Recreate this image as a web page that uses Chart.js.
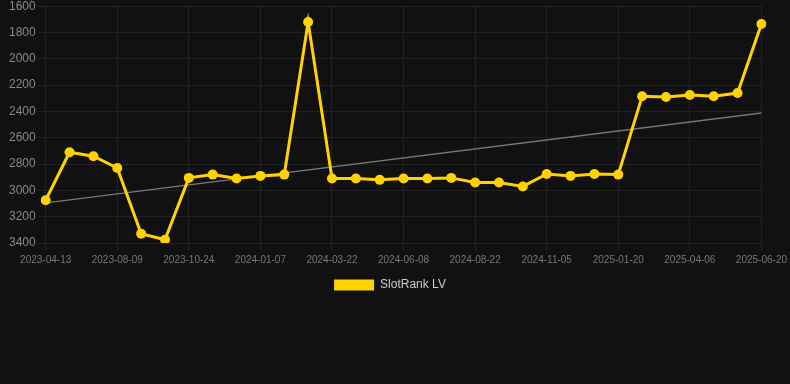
<!DOCTYPE html>
<html>
<head>
<meta charset="utf-8">
<script src="https://cdn.jsdelivr.net/npm/chart.js@4.4.1/dist/chart.umd.min.js"></script>
<style>
  html, body { margin: 0; padding: 0; background: #111111; overflow: hidden; }
  #wrap { width: 790px; height: 304px; position: relative; top: -3px; }
</style>
</head>
<body>
<div id="wrap"><canvas id="c"></canvas></div>
<script>
const dates = [
  "2023-04-13","2023-05-22","2023-06-30","2023-08-09","2023-09-03","2023-09-29",
  "2023-10-24","2023-11-18","2023-12-13","2024-01-07","2024-02-01","2024-02-26",
  "2024-03-22","2024-04-17","2024-05-13","2024-06-08","2024-07-03","2024-07-28",
  "2024-08-22","2024-09-16","2024-10-11","2024-11-05","2024-11-30","2024-12-26",
  "2025-01-20","2025-02-14","2025-03-12","2025-04-06","2025-05-01","2025-05-26",
  "2025-06-20"
];
const rankValues = [
  3075, 2710, 2740, 2830, 3330, 3375,
  2905, 2880, 2910, 2890, 2880, 1720,
  2910, 2910, 2920, 2910, 2910, 2905,
  2940, 2940, 2970, 2875, 2890, 2875,
  2880, 2285, 2290, 2275, 2285, 2260,
  1735
];
const trendStart = 3095;
const trendEnd = 2412;
const trendValues = dates.map((d, i) => i === 0 ? trendStart : (i === dates.length - 1 ? trendEnd : null));
const yTickMin = 1600;
const yTickMax = 3400;
const seriesName = "SlotRank LV";

const FONT = 'Liberation Sans, Arial, sans-serif';

new Chart(document.getElementById('c'), {
  type: 'line',
  data: {
    labels: dates,
    datasets: [
      {
        label: seriesName,
        data: rankValues,
        borderColor: '#FFD200',
        backgroundColor: '#FFD200',
        borderWidth: 3,
        pointRadius: 5,
        pointHoverRadius: 5,
        pointBorderWidth: 0,
        pointBackgroundColor: '#FFD200',
        pointBorderColor: '#FFD200',
        tension: 0,
        order: 1
      },
      {
        label: 'trend',
        data: trendValues,
        spanGaps: true,
        borderColor: '#777777',
        borderWidth: 1.5,
        pointRadius: 0,
        fill: false,
        order: 2
      }
    ]
  },
  options: {
    responsive: true,
    maintainAspectRatio: false,
    animation: false,
    layout: { padding: { left: 7, right: 17, top: 0, bottom: 0 } },
    plugins: {
      legend: {
        position: 'bottom',
        labels: {
          color: '#cccccc',
          font: { family: FONT, size: 12 },
          boxWidth: 40,
          boxHeight: 11,
          generateLabels: (chart) => {
            const items = Chart.defaults.plugins.legend.labels.generateLabels(chart);
            return items.filter(it => it.text !== 'trend').map(it => Object.assign(it, { lineWidth: 0, fillStyle: '#FFD200' }));
          }
        }
      },
      tooltip: { enabled: false }
    },
    scales: {
      x: {
        type: 'category',
        offset: false,
        grid: { color: '#222222', drawTicks: true, tickLength: 8 },
        border: { color: '#222222' },
        ticks: {
          autoSkip: false,
          maxRotation: 0,
          color: '#777777',
          font: { family: FONT, size: 10 },
          callback: function(val, idx) { return idx % 3 === 0 ? this.getLabelForValue(val) : null; }
        }
      },
      y: {
        reverse: true,
        min: yTickMin,
        max: yTickMax,
        grid: { color: '#222222', drawTicks: true, tickLength: 8 },
        border: { color: '#222222' },
        ticks: {
          stepSize: 200,
          padding: 2,
          color: '#888888',
          font: { family: FONT, size: 12 },
          callback: (v) => String(v)
        }
      }
    }
  }
});
</script>
</body>
</html>
